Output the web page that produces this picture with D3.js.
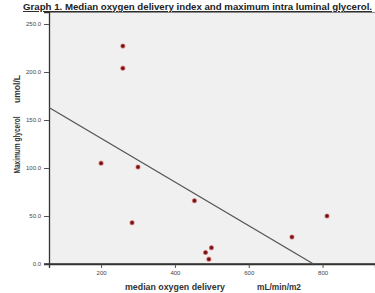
<!doctype html>
<html>
  <head>
    <script src="https://cdnjs.cloudflare.com/ajax/libs/d3/7.8.5/d3.min.js"></script>
    <style>
      body { margin: 0; background: #fff; }
      text { font-family: "Liberation Sans", Arial, sans-serif; }
    </style>
  </head>
  <body>
    <svg width="375" height="293"></svg>
    <script>
        // values
        var oxygenDelivery = [259, 259, 200, 300, 284, 453, 483, 499, 492, 717, 812];
        var maxGlycerol = [227, 204, 105, 101, 43, 66, 12, 17, 5, 28, 50];
        var xTicks = [200, 400, 600, 800];
        var yTicks = [0, 50, 100, 150, 200, 250];

        var svg = d3.select("svg");

        var x = d3.scaleLinear().domain([59, 942]).range([49, 375]);
        var y = d3.scaleLinear().domain([0, 262.5]).range([264, 12]);

        // plot background
        svg.append("rect")
            .attr("x", 49).attr("y", 12)
            .attr("width", 326).attr("height", 252)
            .style("fill", "#f0f0f0");
        svg.append("line")
            .attr("x1", 49).attr("x2", 375).attr("y1", 12.5).attr("y2", 12.5)
            .style("stroke", "#888").style("stroke-width", 1);

        var yAxis = svg.append("g")
            .attr("transform", "translate(49,0)")
            .call(d3.axisLeft(y).tickValues(yTicks).tickSize(5).tickPadding(3).tickFormat(d3.format(".1f")));
        var xAxis = svg.append("g")
            .attr("transform", "translate(0,264)")
            .call(d3.axisBottom(x).tickValues(xTicks).tickSize(4).tickPadding(3));

        [yAxis, xAxis].forEach(function (a) {
            a.select(".domain").style("stroke", "#333").style("stroke-width", 1.3);
            a.selectAll(".tick line").style("stroke", "#555");
            a.selectAll(".tick text").style("font-size", "6px").style("fill", "#444")
                .style("font-family", "Liberation Sans, Arial, sans-serif");
        });
        // bottom axis runs a little past the y axis
        svg.append("line")
            .attr("x1", 44).attr("x2", 375).attr("y1", 264).attr("y2", 264)
            .style("stroke", "#333").style("stroke-width", 1.3);

        // least squares fit line
        var mx = d3.mean(oxygenDelivery), my = d3.mean(maxGlycerol);
        var sxy = d3.sum(oxygenDelivery, (d, i) => (d - mx) * (maxGlycerol[i] - my));
        var sxx = d3.sum(oxygenDelivery, d => (d - mx) * (d - mx));
        var slope = sxy / sxx, intercept = my - slope * mx;
        var x0 = x.domain()[0], x1 = -intercept / slope;

        svg.append("line")
            .attr("x1", x(x0)).attr("y1", y(intercept + slope * x0))
            .attr("x2", x(x1)).attr("y2", y(0))
            .style("stroke", "#555").style("stroke-width", 1.3);

        svg.append("g")
            .selectAll("circle")
            .data(oxygenDelivery)
            .enter()
            .append("circle")
                .attr("cx", d => x(d))
                .attr("cy", (d, i) => y(maxGlycerol[i]))
                .attr("r", 2)
                .style("fill", "#6e1212")
                .style("stroke", "rgba(210,70,70,0.5)")
                .style("stroke-width", 1.2);

        // title and axis labels
        svg.append("text")
            .attr("x", 23).attr("y", 10)
            .attr("textLength", 349).attr("lengthAdjust", "spacingAndGlyphs")
            .style("font-size", "9.5px").style("font-weight", "bold")
            .style("text-decoration", "underline").style("fill", "#222")
            .text("Graph 1. Median oxygen delivery index and maximum intra luminal glycerol.");

        function label(t, tx, ty, rot, len) {
            svg.append("text")
                .attr("transform", "translate(" + tx + "," + ty + ")" + (rot ? " rotate(-90)" : ""))
                .attr("text-anchor", "middle")
                .attr("textLength", len).attr("lengthAdjust", "spacingAndGlyphs")
                .style("font-size", "8.5px").style("font-weight", "bold").style("fill", "#333")
                .text(t);
        }
        label("Maximum glycerol", 20, 145, true, 57);
        label("umol/L", 20, 89, true, 28);
        label("median oxygen delivery", 175, 290, false, 100);
        label("mL/min/m2", 279, 290, false, 44);
    </script>
  </body>
</html>
